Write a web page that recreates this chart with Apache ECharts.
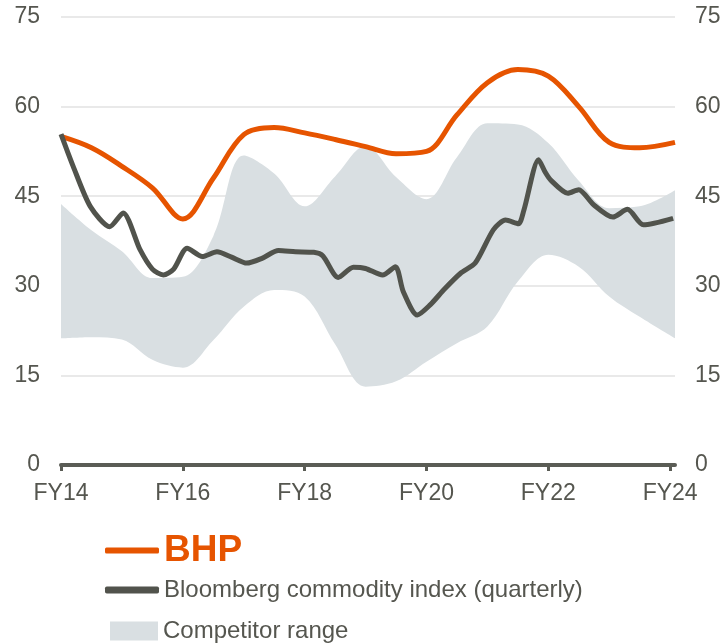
<!DOCTYPE html>
<html>
<head>
<meta charset="utf-8">
<script src="https://cdn.jsdelivr.net/npm/echarts@6/dist/echarts.min.js"></script>
<style>
    html, body { margin: 0; padding: 0; background: #fff; }
    #main { width: 725px; height: 643px; }
</style>
</head>
<body>
<div id="main"></div>
<script>
// Half-year points for BHP and the competitor range (last point sits at the plot's right edge)
const halfYears = [14, 14.5, 15, 15.5, 16, 16.5, 17, 17.5, 18, 18.5, 19, 19.5, 20, 20.5, 21, 21.5, 22, 22.5, 23, 23.5, 24.08];
const bhp = [55.0, 53.1, 50.0, 46.4, 41.2, 48.0, 55.3, 56.5, 55.6, 54.5, 53.3, 52.1, 52.5, 58.6, 64.0, 66.2, 65.1, 60.0, 54.0, 53.1, 54.0];
const rangeHigh = [43.7, 39.3, 35.8, 31.3, 31.5, 38.3, 51.8, 48.8, 43.3, 48.3, 53.4, 48.2, 44.5, 51.5, 57.2, 57.0, 53.9, 47.6, 43.0, 43.3, 46.0];
const rangeLow = [21.2, 21.4, 21.0, 17.6, 16.3, 20.9, 26.5, 29.3, 28.2, 20.2, 13.1, 14.0, 17.3, 20.4, 23.2, 30.7, 35.2, 33.2, 28.2, 24.8, 21.2];

// Bloomberg commodity index (quarterly)
const bbgYears = [14, 14.2, 14.48, 14.8, 15.02, 15.3, 15.5, 15.68, 15.85, 16.07, 16.32, 16.56, 16.8, 17.05, 17.3, 17.57, 17.85, 18.15, 18.3, 18.55, 18.8, 19, 19.28, 19.49, 19.62, 19.85, 20.06, 20.3, 20.56, 20.8, 21.1, 21.3, 21.51, 21.6, 21.84, 21.95, 22.04, 22.32, 22.5, 22.74, 23.06, 23.3, 23.56, 24.05];
const bbgValues = [55.4, 50.0, 43.3, 39.9, 42.2, 36.0, 32.8, 31.8, 32.8, 36.3, 34.9, 35.7, 34.8, 33.8, 34.6, 35.9, 35.7, 35.6, 35.0, 31.4, 33.1, 32.9, 31.8, 33.2, 29.0, 25.1, 26.8, 29.5, 32.1, 33.8, 39.4, 41.0, 40.4, 42.7, 51.1, 49.0, 47.7, 45.5, 46.1, 43.6, 41.5, 42.8, 40.2, 41.3];

const xTicks = [14, 16, 18, 20, 22, 24];
const yMax = 75;
const yStep = 15;

const orange = "#E65400";
const dark = "#51534C";
const band = "#D9DFE2";
const textGrey = "#55564F";
const font = "'Liberation Sans', Arial, sans-serif";

const chart = echarts.init(document.getElementById("main"));

// value first, year second, so the stack adds up the values (encode maps them back)
const pairs = (xs, ys) => xs.map((x, i) => [ys[i], x]);

const yAxisBase = {
    type: "value",
    min: 0,
    max: yMax,
    interval: yStep,
    axisLine: { show: false },
    axisTick: { show: false },
    axisLabel: { color: textGrey, fontSize: 23, fontFamily: font },
};

const legendText = { color: textGrey, fontSize: 24, fontFamily: font };

const options = {
    animation: false,
    grid: { left: 61, right: 50, top: 17, bottom: 178 },
    xAxis: {
        type: "value",
        min: 14,
        max: 24.08,
        axisLine: { lineStyle: { color: "#5A5C55", width: 4 } },
        axisTick: { customValues: xTicks, length: 6, lineStyle: { color: "#5A5C55", width: 3 } },
        axisLabel: {
            customValues: xTicks,
            margin: 17,
            color: textGrey,
            fontSize: 23,
            fontFamily: font,
            formatter: (v) => "FY" + v,
        },
        splitLine: { show: false },
    },
    yAxis: [
        Object.assign({}, yAxisBase, {
            position: "left",
            axisLabel: Object.assign({}, yAxisBase.axisLabel, { margin: 21 }),
            splitLine: { lineStyle: { color: "#E2E2E2", width: 1.5 } },
        }),
        Object.assign({}, yAxisBase, {
            position: "right",
            axisLabel: Object.assign({}, yAxisBase.axisLabel, { margin: 20 }),
            splitLine: { show: false },
        }),
    ],
    legend: [
        {
            left: 105,
            top: 532,
            padding: 0,
            icon: "roundRect",
            itemWidth: 54,
            itemHeight: 6,
            data: [{ name: "BHP", textStyle: { color: orange, fontSize: 37, fontWeight: "bold", fontFamily: font } }],
        },
        {
            left: 105,
            top: 578,
            padding: 0,
            icon: "roundRect",
            itemWidth: 54,
            itemHeight: 7,
            textStyle: legendText,
            data: ["Bloomberg commodity index (quarterly)"],
        },
        {
            left: 110,
            top: 619,
            padding: 0,
            icon: "rect",
            itemWidth: 48,
            itemHeight: 19,
            textStyle: legendText,
            data: ["Competitor range"],
        },
    ],
    series: [
        {
            name: "range-low",
            type: "line",
            stack: "range",
            smooth: 0.35,
            symbol: "none",
            encode: { x: 1, y: 0 },
            lineStyle: { opacity: 0 },
            data: pairs(halfYears, rangeLow),
        },
        {
            name: "Competitor range",
            type: "line",
            stack: "range",
            smooth: 0.35,
            symbol: "none",
            encode: { x: 1, y: 0 },
            color: band,
            lineStyle: { opacity: 0 },
            areaStyle: { color: band, opacity: 1 },
            data: pairs(halfYears, rangeHigh.map((v, i) => v - rangeLow[i])),
        },
        {
            name: "BHP",
            type: "line",
            smooth: 0.35,
            symbol: "none",
            encode: { x: 1, y: 0 },
            color: orange,
            lineStyle: { color: orange, width: 5 },
            data: pairs(halfYears, bhp),
        },
        {
            name: "Bloomberg commodity index (quarterly)",
            type: "line",
            smooth: 0.25,
            symbol: "none",
            encode: { x: 1, y: 0 },
            color: dark,
            lineStyle: { color: dark, width: 5 },
            data: pairs(bbgYears, bbgValues),
        },
    ],
};

chart.setOption(options);
</script>
</body>
</html>
